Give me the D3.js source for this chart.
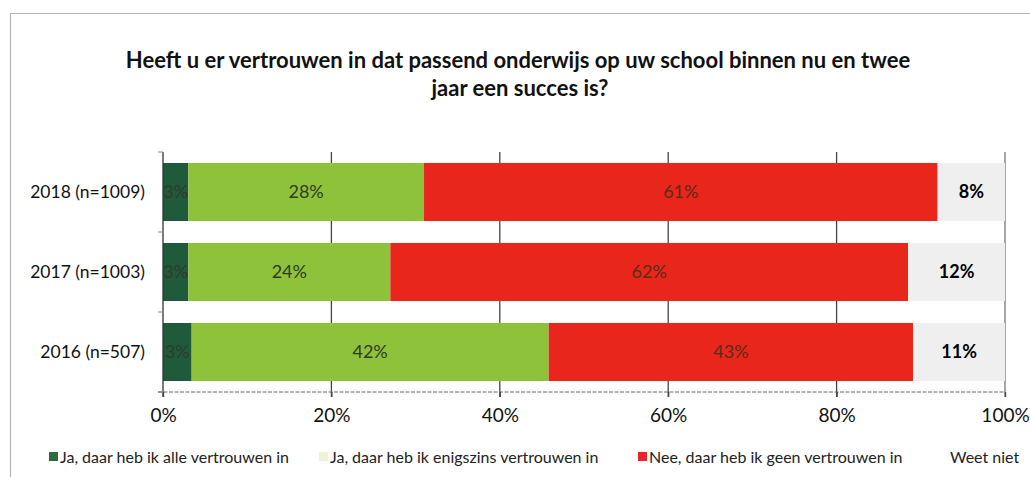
<!DOCTYPE html>
<html>
<head>
<meta charset="utf-8">
<script src="https://cdn.jsdelivr.net/npm/d3@7/dist/d3.min.js"></script>
<style>
  body { margin: 0; background: #fff; }
  text { font-family: Lato, "Open Sans", sans-serif; }
</style>
</head>
<body>
<svg id="chart" width="1030" height="477"></svg>
<script>
// data
var years = ["2018 (n=1009)", "2017 (n=1003)", "2016 (n=507)"];
var series = ["Ja, daar heb ik alle vertrouwen in", "Ja, daar heb ik enigszins vertrouwen in", "Nee, daar heb ik geen vertrouwen in", "Weet niet"];
var alleVertrouwen = [3.0, 3.0, 3.4];
var enigszins = [28.0, 24.0, 42.4];
var geenVertrouwen = [61.0, 61.5, 43.3];
var weetNiet = [8.0, 11.5, 10.9];
var xTicks = [0, 20, 40, 60, 80, 100];

var colors = ["#1f5b3b", "#8fc23b", "#e8261c", "#efefef"];
var legendColors = ["#2e6b3e", "#eef4d2", "#e8262a", "none"];
var labelColors = ["#2f3a2f", "#2f3a24", "#5a2c16", "#000"];

var rows = years.map(function(y, i) {
  return { year: y, vals: [alleVertrouwen[i], enigszins[i], geenVertrouwen[i], weetNiet[i]] };
});

var svg = d3.select("#chart");

// outer frame
svg.append("path")
  .attr("d", "M10.5,477 L10.5,13.5 L1030,13.5")
  .attr("fill", "none")
  .attr("stroke", "#b5b5b5")
  .attr("stroke-width", 1.2);

// title
var title = svg.append("text")
  .attr("text-anchor", "middle")
  .style("font-size", "22px")
  .style("font-weight", "bold")
  .attr("fill", "#111");
title.append("tspan").attr("x", 518).attr("y", 68).text("Heeft u er vertrouwen in dat passend onderwijs op uw school binnen nu en twee");
title.append("tspan").attr("x", 520).attr("y", 96).text("jaar een succes is?");

var x = d3.scaleLinear().domain([0, 100]).range([163, 1005]);
var y = d3.scaleBand().domain(years).range([152, 392]).paddingInner(0.275).paddingOuter(0.1375);

// gridlines
svg.selectAll(".grid")
  .data(xTicks.slice(1))
  .enter().append("line")
  .attr("x1", function(d) { return x(d); })
  .attr("x2", function(d) { return x(d); })
  .attr("y1", 152)
  .attr("y2", 397)
  .attr("stroke", function(d) { return d === 100 ? "#777" : "#444"; })
  .attr("stroke-width", 1.3);

// bars
var g = svg.selectAll(".row")
  .data(rows)
  .enter().append("g")
  .attr("transform", function(d) { return "translate(0," + y(d.year) + ")"; });

g.each(function(d) {
  var start = 0;
  var segs = d.vals.map(function(v, k) {
    var s = { k: k, v: v, x0: start, x1: start + v };
    start += v;
    return s;
  });
  var row = d3.select(this);
  row.selectAll("rect")
    .data(segs)
    .enter().append("rect")
    .attr("x", function(s) { return x(s.x0); })
    .attr("width", function(s) { return x(s.x1) - x(s.x0); })
    .attr("y", 0)
    .attr("height", y.bandwidth())
    .attr("fill", function(s) { return colors[s.k]; });
  row.selectAll("text")
    .data(segs)
    .enter().append("text")
    .attr("x", function(s) { return (x(s.x0) + x(s.x1)) / 2; })
    .attr("y", y.bandwidth() / 2)
    .attr("dy", "0.36em")
    .attr("text-anchor", "middle")
    .style("font-size", "18px")
    .style("font-weight", function(s) { return s.k === 3 ? "bold" : "normal"; })
    .attr("fill", function(s) { return labelColors[s.k]; })
    .text(function(s) { return Math.round(s.v) + "%"; });
});

// category axis
var yAxis = svg.append("g")
  .attr("transform", "translate(163,0)")
  .call(d3.axisLeft(y).tickSize(0).tickPadding(18));
yAxis.select(".domain").attr("stroke", "#333").attr("stroke-width", 1.3).attr("d", "M0,152V397");
yAxis.selectAll("text").style("font-size", "17.5px").attr("fill", "#111");
svg.selectAll(".ytick")
  .data([152, 232, 312, 392])
  .enter().append("line")
  .attr("x1", 158).attr("x2", 163)
  .attr("y1", function(d) { return d; }).attr("y2", function(d) { return d; })
  .attr("stroke", "#888");

// value axis
var xAxis = svg.append("g")
  .attr("transform", "translate(0,392)")
  .call(d3.axisBottom(x).tickValues(xTicks).tickSize(5).tickPadding(12).tickFormat(function(d) { return d + "%"; }));
xAxis.select(".domain").attr("stroke", "#666").attr("stroke-dasharray", "4,1.5").attr("d", "M158,0H1005");
xAxis.selectAll("line").attr("stroke", "#444").attr("stroke-width", 1.3);
xAxis.selectAll("text").style("font-size", "19px").attr("fill", "#111");

// legend
var legendX = [49, 319, 638, 939];
var legend = svg.selectAll(".legend")
  .data(series)
  .enter().append("g")
  .attr("transform", function(d, i) { return "translate(" + legendX[i] + ",457)"; });
legend.append("rect")
  .attr("x", 0).attr("y", -5)
  .attr("width", 9).attr("height", 9)
  .attr("fill", function(d, i) { return legendColors[i]; });
legend.append("text")
  .attr("x", 11)
  .attr("y", 0)
  .attr("dy", "0.35em")
  .style("font-size", "16px")
  .attr("fill", "#222")
  .text(function(d) { return d; });
</script>
</body>
</html>
